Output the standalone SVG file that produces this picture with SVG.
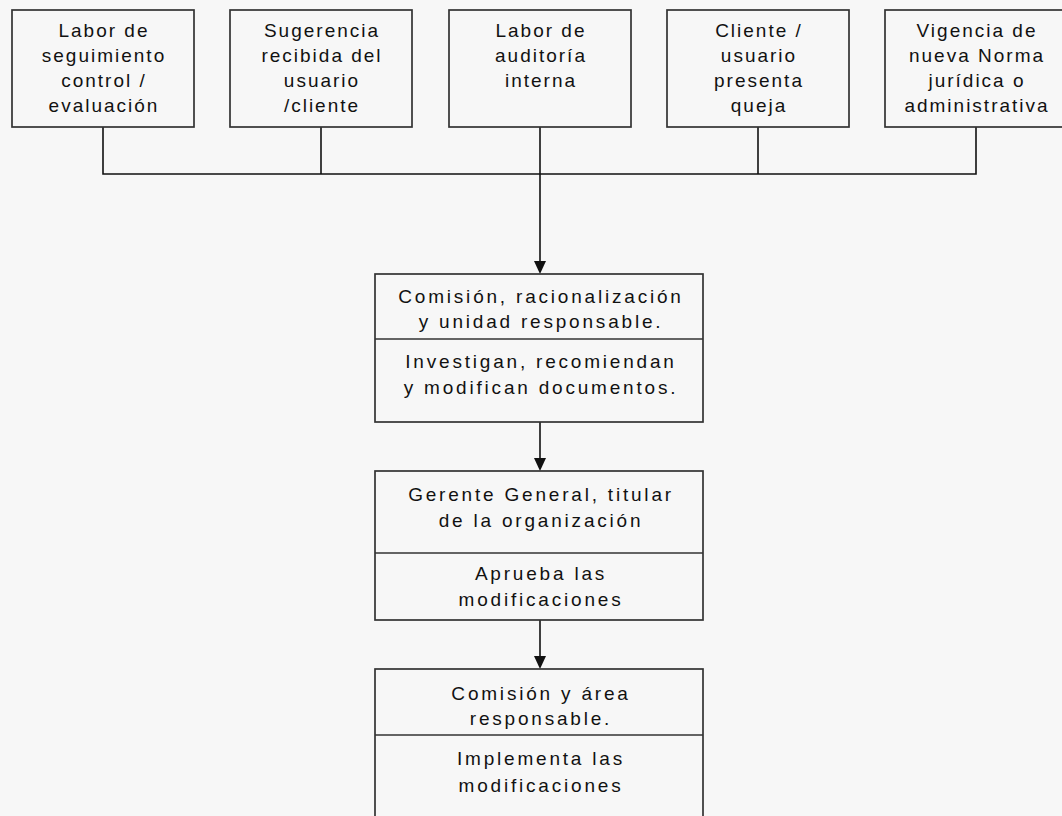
<svg xmlns="http://www.w3.org/2000/svg" width="1062" height="816" viewBox="0 0 1062 816">
<defs>
<style>
.box{fill:#f7f7f7;stroke:#333;stroke-width:1.7}
.div{stroke:#333;stroke-width:1.7;fill:none}
.t{font-family:"Liberation Sans",Arial,sans-serif;font-size:19px;fill:#111;text-anchor:middle;letter-spacing:2px}
.m{letter-spacing:2.8px}
.c{stroke:#111;stroke-width:1.6;fill:none}
.ah{fill:#111}
</style>
</defs>
<rect x="0" y="0" width="1062" height="816" fill="#f7f7f7"/>
<g id="connectors">
<path class="c" d="M103,127 V174 H976 V127"/>
<path class="c" d="M321,127 V174"/>
<path class="c" d="M758,127 V174"/>
<path class="c" d="M540,127 V262"/>
<path class="c" d="M540,422 V459"/>
<path class="c" d="M540,620 V657"/>
<path class="ah" d="M534,261 L546,261 L540,274 Z"/>
<path class="ah" d="M534,458 L546,458 L540,471 Z"/>
<path class="ah" d="M534,656 L546,656 L540,669 Z"/>
</g>
<g id="n1">
<rect class="box" x="12" y="10" width="182" height="117"/>
<text class="t" x="104" y="37">Labor de</text>
<text class="t" x="104" y="62">seguimiento</text>
<text class="t" x="104" y="87">control /</text>
<text class="t" x="104" y="112">evaluación</text>
</g>
<g id="n2">
<rect class="box" x="230" y="10" width="182" height="117"/>
<text class="t" x="322" y="37">Sugerencia</text>
<text class="t" x="322" y="62">recibida del</text>
<text class="t" x="322" y="87">usuario</text>
<text class="t" x="322" y="112">/cliente</text>
</g>
<g id="n3">
<rect class="box" x="449" y="10" width="182" height="117"/>
<text class="t" x="541" y="37">Labor de</text>
<text class="t" x="541" y="62">auditoría</text>
<text class="t" x="541" y="87">interna</text>
</g>
<g id="n4">
<rect class="box" x="667" y="10" width="182" height="117"/>
<text class="t" x="759" y="37">Cliente /</text>
<text class="t" x="759" y="62">usuario</text>
<text class="t" x="759" y="87">presenta</text>
<text class="t" x="759" y="112">queja</text>
</g>
<g id="n5">
<rect class="box" x="885" y="10" width="182" height="117"/>
<text class="t" x="977" y="37">Vigencia de</text>
<text class="t" x="977" y="62">nueva Norma</text>
<text class="t" x="977" y="87">jurídica o</text>
<text class="t" x="977" y="112">administrativa</text>
</g>
<g id="n6">
<rect class="box" x="375" y="274" width="328" height="148"/>
<line class="div" x1="375" y1="339" x2="703" y2="339"/>
<text class="t m" x="541" y="303">Comisión, racionalización</text>
<text class="t m" x="541" y="328">y unidad responsable.</text>
<text class="t m" x="541" y="368">Investigan, recomiendan</text>
<text class="t m" x="541" y="394">y modifican documentos.</text>
</g>
<g id="n7">
<rect class="box" x="375" y="471" width="328" height="149"/>
<line class="div" x1="375" y1="553" x2="703" y2="553"/>
<text class="t m" x="541" y="501">Gerente General, titular</text>
<text class="t m" x="541" y="527">de la organización</text>
<text class="t m" x="541" y="580">Aprueba las</text>
<text class="t m" x="541" y="606">modificaciones</text>
</g>
<g id="n8">
<rect class="box" x="375" y="669" width="328" height="160"/>
<line class="div" x1="375" y1="735" x2="703" y2="735"/>
<text class="t m" x="541" y="700">Comisión y área</text>
<text class="t m" x="541" y="725">responsable.</text>
<text class="t m" x="541" y="765">Implementa las</text>
<text class="t m" x="541" y="792">modificaciones</text>
</g>
</svg>
